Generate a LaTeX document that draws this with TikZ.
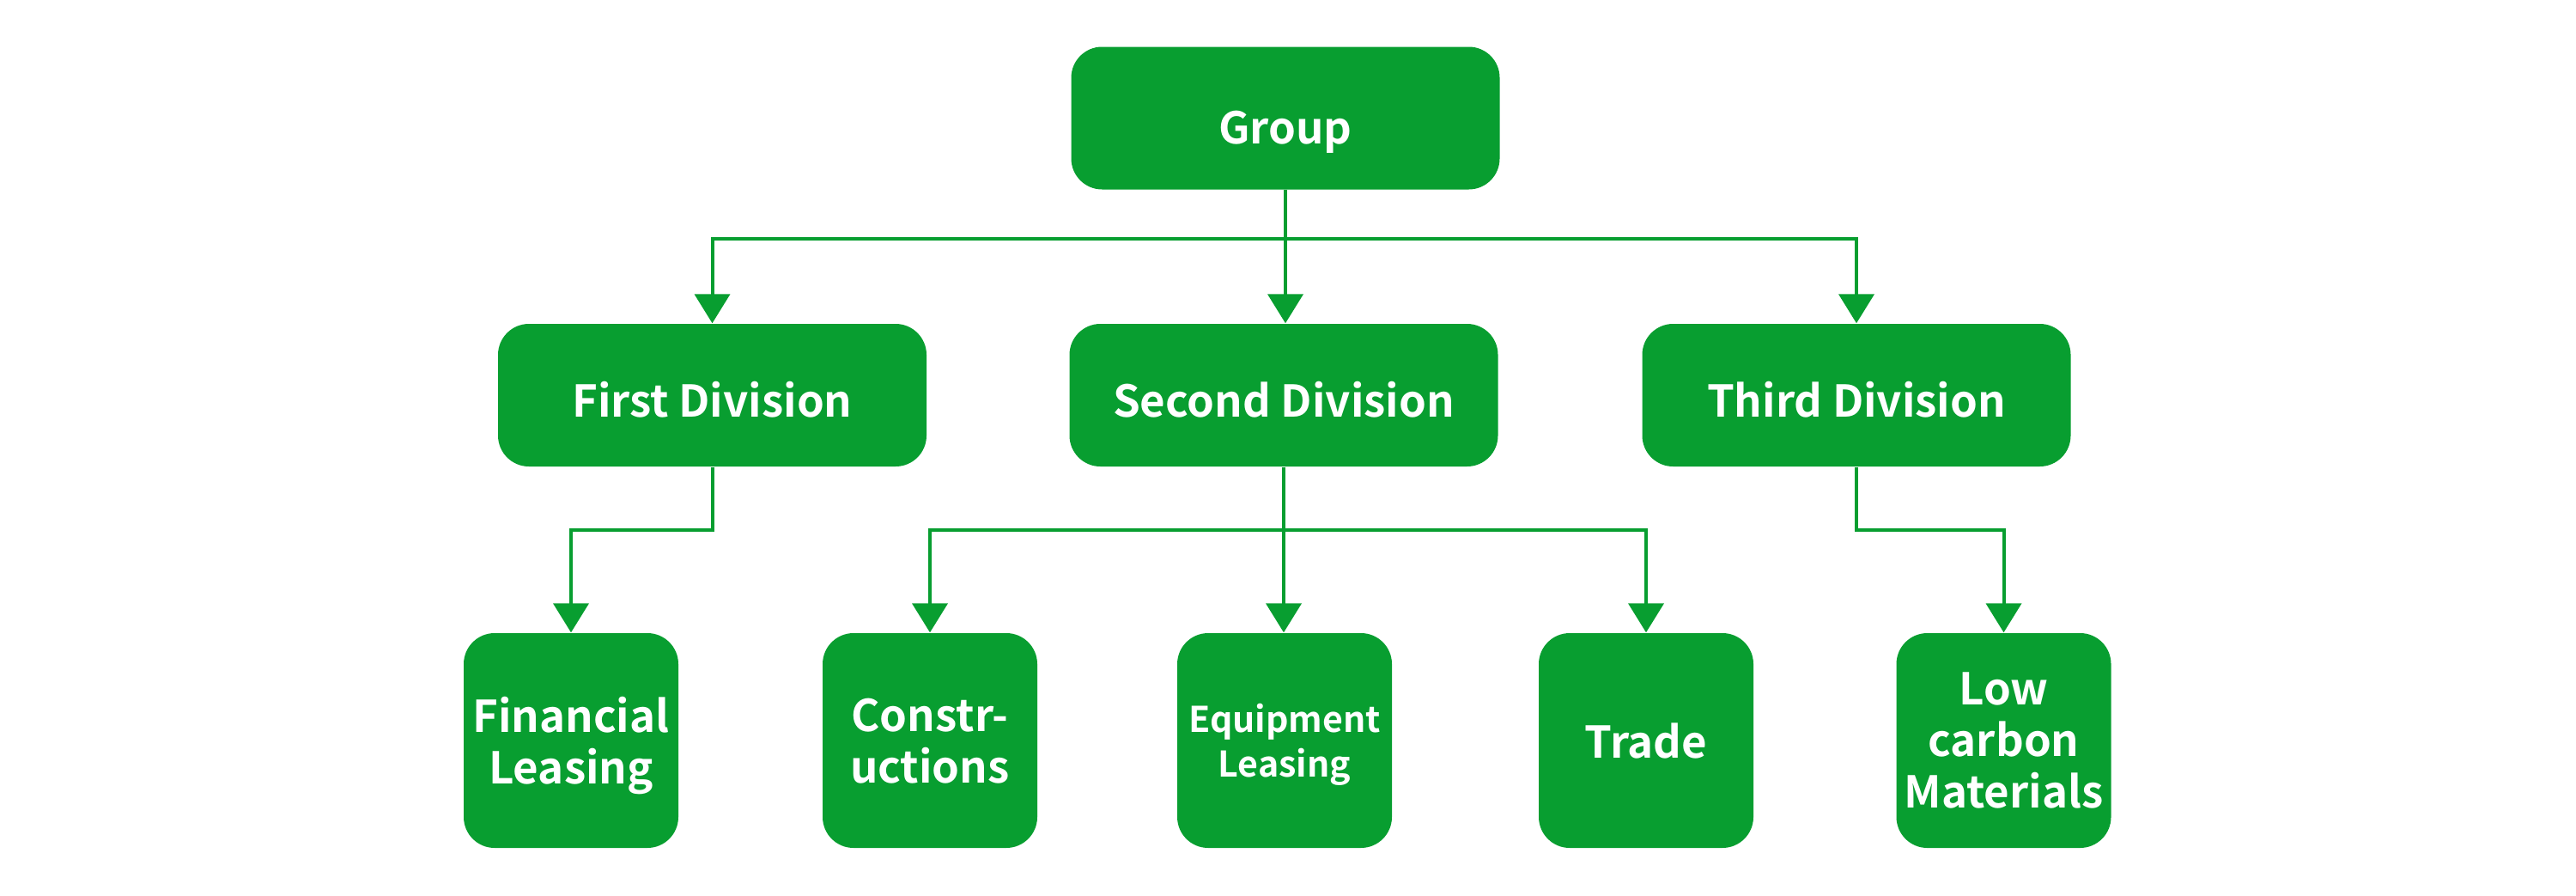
\documentclass[tikz,border=0pt]{standalone}
\usepackage{fontspec}
\setmainfont{Noto Sans CJK SC}[Script=Latin,Language=Default,BoldFont={* Bold}]
\usetikzlibrary{arrows.meta}
\definecolor{gr}{HTML}{089E30}
\begin{document}
\begin{tikzpicture}[
  box/.style={fill=gr, rounded corners=0.36cm, inner sep=0pt, text=white,
    font=\bfseries\fontsize{14.5}{17.07}\selectfont, align=center},
  topbox/.style={box, minimum width=4.99cm, minimum height=1.66cm,
    text height=0.5cm, text depth=0pt},
  leaf/.style={box, minimum width=2.5cm, minimum height=2.5cm, text depth=0pt},
  conn/.style={draw=gr, line width=0.04cm, -{Triangle[width=0.41cm,length=0.34cm]}}]
\useasboundingbox (0,0) rectangle (30,-10.42);
% nodes
\node[topbox, text height=0.6cm] (g)  at (14.97,-1.375) {Group};
\node[topbox] (d1) at (8.295,-4.60) {First Division};
\node[topbox] (d2) at (14.95,-4.60) {Second Division};
\node[topbox] (d3) at (21.62,-4.60) {Third Division};
\node[leaf] (fl)  at (6.65,-8.62) {Financial\\Leasing};
\node[leaf] (con) at (10.83,-8.62) {Constr-\\uctions};
\node[leaf, font=\bfseries\fontsize{11.7}{14.7}\selectfont] (eq) at (14.96,-8.62) {Equipment\\Leasing};
\node[leaf] (tr)  at (19.17,-8.62) {Trade};
\node[leaf] (low) at (23.335,-8.62) {Low\\carbon\\Materials};
% connectors
\draw[conn] (g.south) -- (g.south |- d1.north) ;
\path (g.south) ++(0,-0.57) coordinate (b1);
\path (d2.south) ++(0,-0.73) coordinate (b2);
\draw[conn] (b1) -| (d1.north);
\draw[conn] (b1) -| (d3.north);
\draw[conn] (d1.south) -- (d1.south |- b2) -| (fl.north);
\draw[conn] (d2.south) -- (d2.south |- eq.north);
\draw[conn] (b2) -| (con.north);
\draw[conn] (b2) -| (tr.north);
\draw[conn] (d3.south) -- (d3.south |- b2) -| (low.north);
\end{tikzpicture}
\end{document}
